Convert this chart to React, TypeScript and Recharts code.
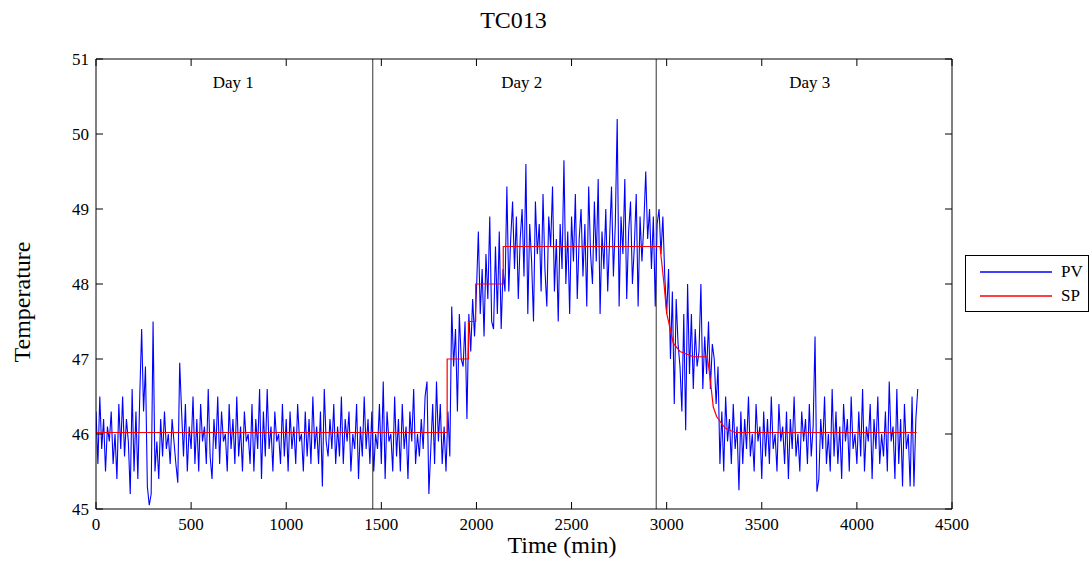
import { LineChart, Line, XAxis, YAxis, ReferenceLine, ReferenceDot } from "recharts";

// PV samples, one every 10 minutes (each row = 100 min)
const sampleStep = 10;

const pvStart = [
  46.3, 45.6, 46.5, 45.8, 46.2, 45.5, 46.1, 45.9, 46.3, 45.6,
  46.0, 45.4, 46.4, 45.8, 46.5, 45.7, 46.2, 45.9, 45.2, 46.6,
  45.5, 46.3, 45.4, 46.5, 47.4, 46.3, 46.9, 45.3, 45.05, 45.2,
  47.5, 45.5, 45.9, 45.4, 46.2, 45.7, 46.3, 45.8, 46.0, 45.6,
  46.2, 45.9, 45.6, 45.35, 46.95, 46.3, 45.7, 46.4, 45.5, 46.1,
  45.8, 46.5, 45.6, 46.2, 45.5, 46.4, 45.9, 46.1, 45.6, 46.6,
  45.7, 45.4, 46.2, 45.8, 46.5, 45.6, 46.3, 45.9, 46.0, 45.5,
  46.4, 45.8, 46.2, 45.6, 46.5, 45.7, 46.1, 45.5, 46.3, 45.9,
  46.0, 45.6, 46.4, 45.5, 46.2, 45.8, 46.6, 45.4, 46.3, 45.7,
  46.6, 45.8, 46.1, 45.5, 46.3, 45.9, 46.0, 45.6, 46.4, 45.7,
  46.2, 45.5, 46.3, 45.8, 46.1, 45.6, 46.4, 45.9, 46.0, 45.5,
  46.3, 45.7, 46.2, 45.6, 46.5, 45.8, 46.1, 45.6, 46.3, 45.3,
  46.6, 45.9, 45.7, 46.2, 45.8, 46.4, 45.6, 46.1, 45.7, 46.5,
  45.6, 46.2, 45.9, 46.3, 45.5, 46.0, 45.8, 46.4, 45.4, 46.1,
  45.7, 46.5, 45.8, 46.2, 45.6, 46.3, 45.5, 46.0, 45.8, 46.4,
  45.6, 46.7, 45.4, 46.3, 45.9, 46.0, 45.5, 46.5, 45.7, 46.2,
  45.5, 46.4, 45.8, 46.1, 45.4, 46.3, 45.9, 46.6, 45.6, 46.0,
  45.7, 46.2, 45.8, 46.5, 46.7, 45.2, 45.8, 46.4, 45.6, 46.7,
];

const pvRamp = [
  45.9, 46.4, 45.6, 46.1, 45.5, 46.3, 45.7, 47.7, 46.9, 47.4,
  46.3, 47.6, 47.0, 46.9, 47.5, 46.2, 47.6, 47.1, 47.8, 47.3,
  47.9, 48.7, 47.6, 48.2, 47.3, 48.4, 47.8, 48.9, 47.5, 47.4,
  48.5, 47.6, 48.7, 47.4, 48.2, 47.9, 49.3, 47.9, 48.6, 49.1,
];

const pvHigh = [
  48.2, 48.9, 47.8, 48.6, 49.0, 48.1, 49.6, 47.6, 48.8, 48.3,
  47.5, 49.1, 48.4, 48.8, 47.9, 49.2, 48.2, 47.7, 48.9, 48.5,
  49.3, 47.9, 48.6, 47.5, 48.8, 48.2, 49.65, 48.0, 48.7, 47.6,
  48.9, 48.3, 49.2, 47.8, 48.6, 49.0, 48.1, 48.8, 47.7, 49.3,
  48.4, 48.0, 49.1, 48.3, 49.4, 47.6, 48.7, 48.2, 49.0, 47.9,
  48.6, 49.3, 48.1, 48.8, 50.2, 47.7, 48.9, 48.4, 49.4, 47.8,
  48.7, 49.1, 48.0, 48.5, 49.2, 47.7, 48.9, 48.3, 48.8, 49.5,
];

const pvFall = [
  48.6, 49.0, 48.2, 48.9, 47.7, 48.8, 49.0, 48.4, 48.9, 48.1,
  47.6, 48.2, 47.0, 47.9, 46.4, 47.8, 47.2, 46.9, 46.3, 47.6,
  46.05, 48.0, 46.8, 47.6, 46.6, 47.4, 46.9, 47.1, 48.0, 46.6,
  47.3, 46.8, 47.5, 46.6, 47.2, 47.0, 46.4, 46.9, 45.6, 46.3,
  45.5, 46.5, 45.9, 46.2, 45.6, 46.4, 45.8, 46.1, 45.25, 46.3,
];

const pvEnd = [
  45.6, 46.2, 45.8, 46.5, 45.7, 46.0, 45.5, 46.4, 45.9, 46.1,
  45.4, 46.3, 45.7, 46.2, 45.6, 46.5, 45.8, 46.0, 45.5, 46.4,
  45.9, 46.1, 45.6, 46.3, 45.4, 46.2, 45.8, 46.5, 45.7, 46.0,
  45.5, 46.3, 45.9, 46.2, 45.6, 46.4, 45.7, 46.1, 47.3, 45.23,
  45.4, 46.2, 45.8, 46.5, 45.6, 46.0, 45.5, 46.6, 45.7, 46.3,
  45.6, 46.1, 45.4, 46.4, 45.9, 46.2, 45.5, 46.5, 45.8, 46.0,
  45.6, 46.3, 45.7, 46.6, 45.5, 46.1, 45.9, 46.4, 45.4, 46.2,
  45.8, 46.5, 45.6, 46.0, 45.7, 46.3, 45.5, 46.7, 45.9, 46.1,
  45.4, 46.6, 45.6, 46.2, 45.3, 46.4, 45.8, 46.0, 45.3, 46.5,
  45.3, 46.2, 46.6,
];

// setpoint breakpoints (min, °C)
const spTimes = [0, 1846, 1846, 1958, 1958, 1996, 1996, 2141, 2141, 2965, 2986, 3000, 3035, 3070, 3140, 3214, 3228, 3245, 3263, 3307, 3359, 4314];
const spValues = [46.02, 46.02, 47, 47, 47.5, 47.5, 48, 48, 48.5, 48.5, 48, 47.61, 47.21, 47.1, 47.03, 47.03, 46.75, 46.36, 46.23, 46.08, 46.02, 46.02];

const xTicks = [0, 500, 1000, 1500, 2000, 2500, 3000, 3500, 4000, 4500];
const yTicks = [45, 46, 47, 48, 49, 50, 51];

const dayBreaks = [1455, 2945];
const dayNames = ["Day 1", "Day 2", "Day 3"];
const dayLabelAt = [722, 2238, 3752];

const pvData = [...pvStart, ...pvRamp, ...pvHigh, ...pvFall, ...pvEnd].map((v, i) => ({ t: i * sampleStep, v }));
const spData = spTimes.map((t, i) => ({ t, v: spValues[i] }));

const legendItems = [
  { name: "PV", color: "#0000ff" },
  { name: "SP", color: "#ff0000" },
];

const FONT = '"Liberation Serif", "Times New Roman", serif';
const TICK_LEN = 7;

function BottomTick({ x, y, payload }: any) {
  return (
    <g>
      <line x1={x} x2={x} y1={y} y2={y - TICK_LEN} stroke="#000" />
      <text x={x} y={y + 21} textAnchor="middle" fontSize={17} fontFamily={FONT} fill="#000">
        {payload.value}
      </text>
    </g>
  );
}

function TopTick({ x, y }: any) {
  return <line x1={x} x2={x} y1={y} y2={y + TICK_LEN} stroke="#000" />;
}

function LeftTick({ x, y, payload }: any) {
  return (
    <g>
      <line x1={x} x2={x + TICK_LEN} y1={y} y2={y} stroke="#000" />
      <text x={x - 7} y={y} dy="0.35em" textAnchor="end" fontSize={17} fontFamily={FONT} fill="#000">
        {payload.value}
      </text>
    </g>
  );
}

function RightTick({ x, y }: any) {
  return <line x1={x} x2={x - TICK_LEN} y1={y} y2={y} stroke="#000" />;
}

export default function App() {
  return (
    <div style={{ position: "absolute", left: 0, top: 0, width: 1091, height: 563, background: "#fff", fontFamily: FONT }}>
      <div style={{ position: "absolute", left: 0, width: 1027, top: 7, textAlign: "center", fontSize: 24 }}>TC013</div>
      <div style={{ position: "absolute", left: 462, width: 200, top: 532, textAlign: "center", fontSize: 24 }}>Time (min)</div>
      <div
        style={{
          position: "absolute",
          left: 22,
          top: 302,
          transform: "translate(-50%, -50%) rotate(-90deg)",
          fontSize: 24,
          whiteSpace: "nowrap",
        }}
      >
        Temperature
      </div>

      {/* top/right axes are 1px thick so they still render the frame */}
      <LineChart width={1091} height={563} margin={{ top: 58, right: 138, bottom: 0, left: 0 }}>
        <XAxis
          xAxisId="b"
          type="number"
          dataKey="t"
          domain={[0, 4500]}
          ticks={xTicks}
          interval={0}
          height={54}
          tickSize={0}
          tickMargin={0}
          tick={<BottomTick />}
          axisLine={{ stroke: "#000" }}
          allowDataOverflow
        />
        <XAxis
          xAxisId="t"
          orientation="top"
          type="number"
          dataKey="t"
          domain={[0, 4500]}
          ticks={xTicks}
          interval={0}
          height={1}
          tickSize={0}
          tickMargin={0}
          tick={<TopTick />}
          axisLine={{ stroke: "#000" }}
          allowDataOverflow
        />
        <YAxis
          yAxisId="l"
          type="number"
          domain={[45, 51]}
          ticks={yTicks}
          interval={0}
          width={96}
          tickSize={0}
          tickMargin={0}
          tick={<LeftTick />}
          axisLine={{ stroke: "#000" }}
          allowDataOverflow
        />
        <YAxis
          yAxisId="r"
          orientation="right"
          type="number"
          domain={[45, 51]}
          ticks={yTicks}
          interval={0}
          width={1}
          tickSize={0}
          tickMargin={0}
          tick={<RightTick />}
          axisLine={{ stroke: "#000" }}
          allowDataOverflow
        />

        {dayBreaks.map((x) => (
          <ReferenceLine key={x} xAxisId="b" yAxisId="l" x={x} stroke="#333" strokeWidth={1} />
        ))}
        {dayNames.map((name, i) => (
          <ReferenceDot
            key={name}
            xAxisId="b"
            yAxisId="l"
            x={dayLabelAt[i]}
            y={50.69}
            r={0}
            fill="none"
            stroke="none"
            label={{ value: name, position: "center", fontSize: 17, fill: "#000", fontFamily: FONT }}
          />
        ))}

        {/* unstroked copy of SP so the top/right frame axes get a domain */}
        <Line
          xAxisId="t"
          yAxisId="r"
          data={spData}
          dataKey="v"
          stroke="none"
          dot={false}
          activeDot={false}
          legendType="none"
          isAnimationActive={false}
        />
        <Line
          xAxisId="b"
          yAxisId="l"
          data={pvData}
          dataKey="v"
          type="linear"
          stroke="#0000ff"
          strokeWidth={1.1}
          dot={false}
          isAnimationActive={false}
        />
        <Line
          xAxisId="b"
          yAxisId="l"
          data={spData}
          dataKey="v"
          type="linear"
          stroke="#ff0000"
          strokeWidth={1.2}
          dot={false}
          isAnimationActive={false}
        />
      </LineChart>

      <div
        style={{
          position: "absolute",
          left: 965,
          top: 255,
          width: 122,
          height: 55,
          border: "1px solid #000",
          background: "#fff",
          fontSize: 17,
        }}
      >
        {legendItems.map((it, i) => (
          <div
            key={it.name}
            style={{ position: "absolute", left: 14, top: 6 + i * 24, height: 20, display: "flex", alignItems: "center" }}
          >
            <svg width={72} height={4} style={{ display: "block" }}>
              <line x1={0} x2={72} y1={2} y2={2} stroke={it.color} strokeWidth={1.3} />
            </svg>
            <span style={{ marginLeft: 9 }}>{it.name}</span>
          </div>
        ))}
      </div>
    </div>
  );
}
